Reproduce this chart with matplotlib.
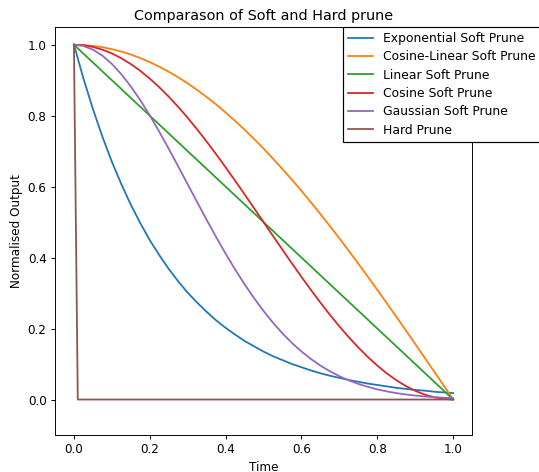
import matplotlib
matplotlib.use("Agg")
import matplotlib.pyplot as plt

t = [0.000, 0.025, 0.050, 0.075, 0.100, 0.125, 0.150, 0.175, 0.200, 0.225,
     0.250, 0.275, 0.300, 0.325, 0.350, 0.375, 0.400, 0.425, 0.450, 0.475,
     0.500, 0.525, 0.550, 0.575, 0.600, 0.625, 0.650, 0.675, 0.700, 0.725,
     0.750, 0.775, 0.800, 0.825, 0.850, 0.875, 0.900, 0.925, 0.950, 0.975, 1.000]

exponential = [1.000, 0.905, 0.819, 0.741, 0.670, 0.607, 0.549, 0.497, 0.449, 0.407,
               0.368, 0.333, 0.301, 0.273, 0.247, 0.223, 0.202, 0.183, 0.165, 0.150,
               0.135, 0.122, 0.111, 0.100, 0.091, 0.082, 0.074, 0.067, 0.061, 0.055,
               0.050, 0.045, 0.041, 0.037, 0.033, 0.030, 0.027, 0.025, 0.022, 0.020, 0.018]

cosine_linear = [1.000, 0.9992, 0.9969, 0.9931, 0.9877, 0.9808, 0.9724, 0.9625, 0.9511, 0.9382,
                 0.9239, 0.9081, 0.8910, 0.8725, 0.8526, 0.8315, 0.8090, 0.7853, 0.7604, 0.7343,
                 0.7071, 0.6788, 0.6494, 0.6191, 0.5878, 0.5556, 0.5225, 0.4886, 0.4540, 0.4187,
                 0.3827, 0.3461, 0.3090, 0.2714, 0.2334, 0.1951, 0.1564, 0.1175, 0.0785, 0.0393, 0.000]

linear = [1.000, 0.975, 0.950, 0.925, 0.900, 0.875, 0.850, 0.825, 0.800, 0.775,
          0.750, 0.725, 0.700, 0.675, 0.650, 0.625, 0.600, 0.575, 0.550, 0.525,
          0.500, 0.475, 0.450, 0.425, 0.400, 0.375, 0.350, 0.325, 0.300, 0.275,
          0.250, 0.225, 0.200, 0.175, 0.150, 0.125, 0.100, 0.075, 0.050, 0.025, 0.000]

cosine = [1.000, 0.9985, 0.9938, 0.9862, 0.9755, 0.9619, 0.9455, 0.9264, 0.9045, 0.8802,
          0.8536, 0.8247, 0.7939, 0.7612, 0.7270, 0.6913, 0.6545, 0.6167, 0.5782, 0.5392,
          0.5000, 0.4608, 0.4218, 0.3833, 0.3455, 0.3087, 0.2730, 0.2388, 0.2061, 0.1753,
          0.1464, 0.1198, 0.0955, 0.0736, 0.0545, 0.0381, 0.0245, 0.0138, 0.0062, 0.0015, 0.000]

gaussian = [1.000, 0.9965, 0.9862, 0.9692, 0.9460, 0.9169, 0.8825, 0.8436, 0.8007, 0.7548,
            0.7066, 0.6570, 0.6065, 0.5561, 0.5063, 0.4578, 0.4111, 0.3666, 0.3247, 0.2855,
            0.2494, 0.2163, 0.1862, 0.1593, 0.1353, 0.1142, 0.0956, 0.0796, 0.0657, 0.0539,
            0.0439, 0.0356, 0.0286, 0.0228, 0.0181, 0.0142, 0.0111, 0.0086, 0.0066, 0.0051, 0.0039]

hard_t = [0.000, 0.0101, 1.000]
hard = [1.0, 0.0, 0.0]

labels = ["Exponential Soft Prune", "Cosine-Linear Soft Prune", "Linear Soft Prune",
          "Cosine Soft Prune", "Gaussian Soft Prune", "Hard Prune"]

DPI = 86
fig = plt.figure(figsize=(539 / DPI, 472 / DPI), dpi=DPI)
ax = fig.add_axes([0.102, 0.0784, 0.774, 0.8644])

ax.plot(t, exponential, label=labels[0])
ax.plot(t, cosine_linear, label=labels[1])
ax.plot(t, linear, label=labels[2])
ax.plot(t, cosine, label=labels[3])
ax.plot(t, gaussian, label=labels[4])
ax.plot(hard_t, hard, label=labels[5])

ax.set_xlim(-0.05, 1.05)
ax.set_ylim(-0.1, 1.05)
ax.set_xlabel("Time")
ax.set_ylabel("Normalised Output")
ax.set_title("Comparason of Soft and Hard prune")

leg = ax.legend(loc="upper left", bbox_to_anchor=(0.691, 1.0), borderaxespad=0,
                fancybox=False, edgecolor="black", framealpha=1,
                fontsize=10.4, labelspacing=0.43)
leg.get_frame().set_linewidth(1.0)

fig.savefig("out.png", dpi=DPI)
